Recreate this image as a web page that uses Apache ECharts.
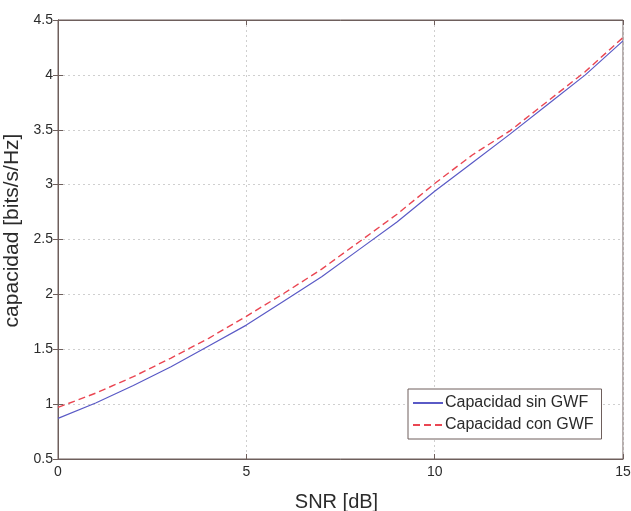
<!DOCTYPE html>
<html><head><meta charset="utf-8">
<script src="https://cdn.jsdelivr.net/npm/echarts@6/dist/echarts.min.js"></script>
<style>html,body{margin:0;padding:0;background:#fff}#c{width:631px;height:511px}</style>
</head><body><div id="c"></div>
<script>
const snr = [0,1,2,3,4,5,6,7,8,9,10,11,12,13,14,15];
const capSin = [0.87,1.01,1.17,1.34,1.53,1.72,1.94,2.16,2.41,2.66,2.94,3.20,3.46,3.73,4.00,4.31];
const capCon = [0.97,1.10,1.25,1.42,1.60,1.80,2.01,2.23,2.48,2.73,3.01,3.27,3.49,3.76,4.03,4.34];
const xTicks = [0,5,10,15];
const yTicks = [0.5,1,1.5,2,2.5,3,3.5,4,4.5];
const names = ['Capacidad sin GWF','Capacidad con GWF'];

const font = 'Liberation Sans, Arial, sans-serif';
const axisCol = '#6e5f5c';
const txt = '#2b2b2b';
const chart = echarts.init(document.getElementById('c'));
const pair = (xs, ys) => xs.map((x,i)=>[x, ys[i]]);
chart.setOption({
  animation:false,
  backgroundColor:'#fff',
  grid:{left:58, right:8, top:20, bottom:52, show:true, borderColor:axisCol, borderWidth:1,
        containLabel:false, outerBoundsMode:'none'},
  legend:{
    data:names, orient:'vertical', left:408, top:389, width:194,
    backgroundColor:'#fff', borderColor:axisCol, borderWidth:1,
    padding:[6,8,6,4], itemGap:6, itemWidth:30, itemHeight:14,
    itemStyle:{opacity:0},
    textStyle:{fontFamily:font, fontSize:16, color:txt, padding:[0,0,0,-3]}
  },
  xAxis:[{
    type:'value', min:0, max:15, interval:5,
    name:'SNR [dB]', nameLocation:'middle', nameGap:33,
    nameTextStyle:{fontFamily:font, fontSize:20, color:txt, padding:[0,8,0,0]},
    axisLine:{show:true, lineStyle:{color:axisCol}},
    axisTick:{show:true, inside:true, length:5, lineStyle:{color:axisCol}},
    axisLabel:{fontFamily:font, fontSize:14, color:txt, margin:6,
      formatter:v=>xTicks.includes(v)?String(v):''},
    splitLine:{show:true, lineStyle:{color:'#cfcfcf', type:[2,3]}}
  },{
    type:'value', min:0, max:15, interval:5, position:'top',
    axisLine:{show:true, lineStyle:{color:axisCol}},
    axisTick:{show:true, inside:true, length:5, lineStyle:{color:axisCol}},
    axisLabel:{show:false}, splitLine:{show:false}
  }],
  yAxis:[{
    type:'value', min:0.5, max:4.5, interval:0.5,
    name:'capacidad [bits/s/Hz]', nameLocation:'middle', nameGap:31,
    nameTextStyle:{fontFamily:font, fontSize:21, color:txt, padding:[0,0,0,18]},
    axisLine:{show:true, lineStyle:{color:axisCol}},
    axisTick:{show:true, inside:true, length:5, lineStyle:{color:axisCol}},
    axisLabel:{fontFamily:font, fontSize:14, color:txt, margin:5,
      formatter:v=>{const t=yTicks.find(y=>Math.abs(y-v)<1e-9);return t===undefined?'':String(t);}},
    splitLine:{show:true, lineStyle:{color:'#cfcfcf', type:[2,3]}}
  },{
    type:'value', min:0.5, max:4.5, interval:0.5, position:'right',
    axisLine:{show:true, lineStyle:{color:axisCol}},
    axisTick:{show:true, inside:true, length:5, lineStyle:{color:axisCol}},
    axisLabel:{show:false}, splitLine:{show:false}
  }],
  series:[
    {name:names[0], type:'line', data:pair(snr,capSin), symbol:'none',
     lineStyle:{color:'#5a5ac6', width:1.2}, itemStyle:{color:'#5a5ac6'}},
    {name:names[1], type:'line', data:pair(snr,capCon), symbol:'none',
     lineStyle:{color:'#ea4652', width:1.4, type:[7,4]}, itemStyle:{color:'#ea4652'}}
  ]
});
</script></body></html>
